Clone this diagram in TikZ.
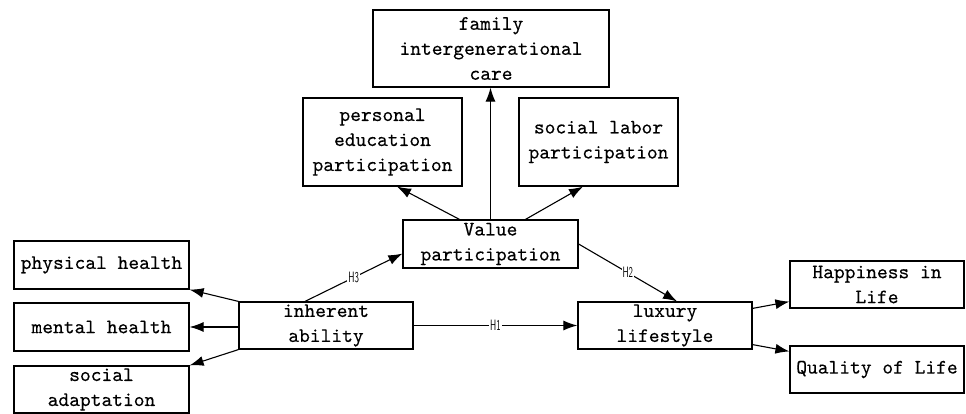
\documentclass[tikz,border=0pt]{standalone}
\usepackage{fontspec}
\newfontfamily\boxfont{lmmono10-regular.otf}[FakeBold=0.3]
\usetikzlibrary{arrows.meta,calc}
\begin{document}
\begin{tikzpicture}[x=1pt,y=1pt,
  box/.style={draw,line width=1.2pt,align=center,inner sep=0pt,
    font=\fontsize{20.5}{25}\selectfont\boxfont},
  arr/.style={line width=1.1pt,-{Latex[length=14pt,width=10pt]}},
  hlab/.style={fill=white,inner sep=1pt,font=\fontsize{15}{15}\selectfont\sffamily}]
\useasboundingbox (0,0) rectangle (966,-414);
% nodes
\node[box,minimum width=236pt,minimum height=77pt] (fam) at (491,-48.5) {family\\intergenerational\\care};
\node[box,minimum width=159pt,minimum height=88pt] (pers) at (382.5,-142) {personal\\education\\participation};
\node[box,minimum width=159pt,minimum height=88pt] (soc) at (598.5,-142) {social labor\\participation};
\node[box,minimum width=175pt,minimum height=48pt] (val) at (490.5,-244) {Value\\participation};
\node[box,minimum width=174pt,minimum height=47pt] (inh) at (326,-325.5) {inherent\\ability};
\node[box,minimum width=174pt,minimum height=47pt] (lux) at (665,-325.5) {luxury\\lifestyle};
\node[box,minimum width=175pt,minimum height=48pt] (phy) at (101.5,-265) {physical health};
\node[box,minimum width=175pt,minimum height=48pt] (men) at (101.5,-327) {mental health};
\node[box,minimum width=175pt,minimum height=47pt] (sad) at (101.5,-389.5) {social\\adaptation};
\node[box,minimum width=174pt,minimum height=47pt] (hap) at (877,-284.5) {Happiness in\\Life};
\node[box,minimum width=174pt,minimum height=47pt] (qol) at (877,-369.5) {Quality of Life};
% helper coordinates
\coordinate (vp) at ($(val.north)+(-31,0)$);
\coordinate (vs) at ($(val.north)+(35,0)$);
\coordinate (pe) at ($(pers.south)+(14.5,0)$);
\coordinate (se) at ($(soc.south)+(-15.5,0)$);
\coordinate (h3s) at ($(inh.north)+(-21,0)$);
\coordinate (h3e) at ($(val.south west)+(0,15)$);
\coordinate (h2e) at ($(lux.north)+(12,0)$);
\coordinate (lh) at ($(lux.north east)+(0,-7)$);
\coordinate (hh) at ($(hap.south west)+(0,7)$);
\coordinate (lq) at ($(lux.south east)+(0,5)$);
\coordinate (qq) at ($(qol.north west)+(0,-6)$);
% connectors
\draw[arr] (val.north) -- (val.north |- fam.south);
\draw[arr] (vp) -- (pe);
\draw[arr] (vs) -- (se);
\draw[arr] (inh.north west) -- (phy.south east);
\draw[arr] (inh.west |- men.east) -- (men.east);
\draw[arr] (inh.south west) -- (sad.north east);
\draw[arr] (h3s) -- node[hlab]{\scalebox{0.6}[1]{H3}} (h3e);
\draw[arr] (val.east) -- node[hlab]{\scalebox{0.6}[1]{H2}} (h2e);
\draw[arr] (inh.east) -- node[hlab]{\scalebox{0.6}[1]{H1}} (lux.west);
\draw[arr] (lh) -- (hh);
\draw[arr] (lq) -- (qq);
\end{tikzpicture}
\end{document}
